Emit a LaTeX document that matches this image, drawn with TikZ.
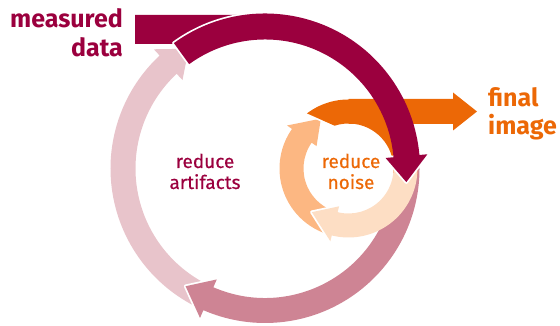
\documentclass[tikz,border=0pt]{standalone}
\usepackage{fontspec}
\setmainfont{Fira Sans}
\newfontfamily\medfont{Fira Sans}[FakeBold=0.5]
\definecolor{cMaroon}{RGB}{155,0,62}
\definecolor{cLightPink}{RGB}{232,196,203}
\definecolor{cDarkPink}{RGB}{206,132,148}
\definecolor{cOrange}{RGB}{236,104,6}
\definecolor{cLightOrange}{RGB}{252,183,130}
\definecolor{cPeach}{RGB}{253,222,196}
% #1 center, #2 mid radius, #3 width, #4 start angle, #5 end angle (head base),
% #6 head length (deg), #7 head half width, #8 colour
\newcommand\ringarrow[8]{%
  \begin{scope}[shift={#1}]
    \draw[white, line width=3.5pt, line join=round]
      (#5:{#2+#7}) -- ({#5-#6}:#2) -- (#5:{#2-#7}) -- cycle;
    \fill[#8] (#4:{#2+#3/2}) arc[start angle=#4, end angle=#5, radius={#2+#3/2}]
      -- (#5:{#2+#7}) -- ({#5-#6}:#2) -- (#5:{#2-#7}) -- (#5:{#2-#3/2})
      arc[start angle=#5, end angle=#4, radius={#2-#3/2}] -- cycle;
  \end{scope}}
\begin{document}
\begin{tikzpicture}[x=1pt,y=1pt,
  biglabel/.style={inner sep=0pt, font=\fontsize{25}{29}\selectfont\bfseries},
  smalllabel/.style={inner sep=0pt, font=\fontsize{19}{21}\selectfont\medfont}]
\useasboundingbox (0,0) rectangle (560,326);
\coordinate (big) at (265,157.5);
\coordinate (small) at (348.5,157.5);
% big ring: light pink
\ringarrow{(big)}{142}{25}{247}{133}{10.5}{21}{cLightPink}
% big ring: dark pink
\ringarrow{(big)}{142}{25}{4}{-113.5}{10.5}{21}{cDarkPink}
% small ring: light orange
\ringarrow{(small)}{57}{24}{255}{145}{26}{18}{cLightOrange}
% small ring: orange arc and shaft to final image
\begin{scope}[shift={(small)}]
  \draw[white, line width=3.5pt] (127:69) -- (108:45);
  \fill[cOrange] (127:69) arc[start angle=127, end angle=-8, radius=69]
    -- (-8:45) arc[start angle=-8, end angle=108, radius=45] -- cycle;
\end{scope}
\fill[cOrange] (348.5,202) -- (453,202) -- (453,195.5) -- (477,214.5)
  -- (453,233.5) -- (453,227) -- (348.5,227) -- cycle;
% small ring: peach
\ringarrow{(small)}{57}{24}{-2}{-104}{26}{18}{cPeach}
% maroon: measured data input bar
\fill[cMaroon] (135,282) -- (135,311) -- (252,311) -- (252,288) -- (205,282) -- cycle;
\begin{scope}[shift={(big)}]
  \draw[white, line width=3.5pt, line join=round]
    (126:129) -- (126:155) arc[start angle=126, end angle=86, radius=155];
\end{scope}
\ringarrow{(big)}{142}{26}{126}{5}{10.5}{21}{cMaroon}
% labels
\node[biglabel, text=cMaroon, anchor=base east] (m1) at (123,298) {measured};
\node[biglabel, text=cMaroon, anchor=base east] (m2) at (123,269) {data};
\node[biglabel, text=cOrange, anchor=base west] (f1) at (488,219) {final};
\node[biglabel, text=cOrange, anchor=base west] (f2) at (488,191) {image};
\node[smalllabel, text=cMaroon, anchor=base] (a1) at (205,158) {reduce};
\node[smalllabel, text=cMaroon, anchor=base] (a2) at (205,137) {artifacts};
\node[smalllabel, text=cOrange, anchor=base] (n1) at (351,158) {reduce};
\node[smalllabel, text=cOrange, anchor=base] (n2) at (351,137) {noise};
\end{tikzpicture}
\end{document}
